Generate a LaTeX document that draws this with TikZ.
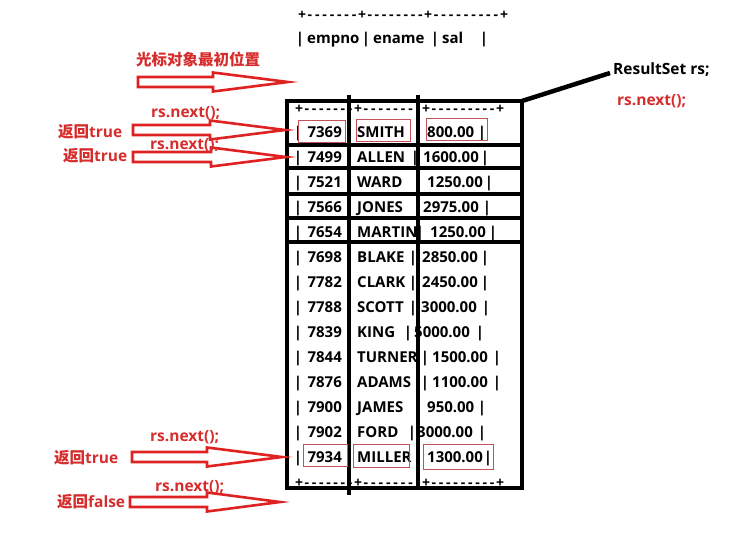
\documentclass[tikz,border=0pt]{standalone}
\usepackage{fontspec}
\setmainfont{Open Sans}
\newfontfamily\cjk{Noto Sans CJK SC}
\definecolor{redtxt}{RGB}{214,44,44}
\definecolor{arrowred}{RGB}{222,34,34}
\definecolor{boxred}{RGB}{196,80,90}
\newcommand\dashfill[1]{\hbox to #1pt{\xleaders\hbox to 6.9pt{\hss-\hss}\hfill}}
\newcommand\tblfont{\fontsize{15}{18}\selectfont\bfseries}
\newcommand\lblfont{\fontsize{15.5}{18}\selectfont\bfseries}
\begin{document}
\begin{tikzpicture}[x=1pt,y=-1pt,
  cell/.style={inner sep=0pt, font=\tblfont, anchor=base west},
  cellr/.style={inner sep=0pt, font=\tblfont, anchor=base east},
  barc/.style={inner sep=0pt, font=\tblfont, anchor=base},
  dashc/.style={inner sep=0pt, font=\fontsize{14}{18}\selectfont\bfseries, anchor=base},
  lbl/.style={inner sep=0pt, font=\lblfont, text=redtxt, anchor=west},
  thickline/.style={line width=4.5pt, black, line cap=rect},
  hollow/.style={draw=arrowred, line width=2.6pt, fill=white, line join=miter},
  redbox/.style={draw=boxred, line width=0.9pt}
]
\useasboundingbox (0,0) rectangle (735,544);

% header
\foreach \px [count=\i] in {302,362,428,504} {
  \node[dashc] (hp\i) at (\px,19.5) {+};
}
\node[dashc] (hd1) at (332,19.5) {\dashfill{52}};
\node[dashc] (hd2) at (395,19.5) {\dashfill{58}};
\node[dashc] (hd3) at (466,19.5) {\dashfill{68}};
\node[barc] (hb1) at (300,43) {|};
\node[cell] (hempno) at (307,43) {empno};
\node[barc] (hb2) at (366,43) {|};
\node[cell] (hename) at (373,43) {ename};
\node[barc] (hb3) at (435,43) {|};
\node[cell] (hsal) at (442,43) {sal};
\node[barc] (hb4) at (484,43) {|};

% inner dashed lines (top and bottom)
\foreach \yy/\nm in {113.5/t,487.5/b} {
  \foreach \px [count=\i] in {299,358,426,500} {
    \node[dashc] (\nm p\i) at (\px,\yy) {+};
  }
  \node[dashc] (\nm d1) at (328.5,\yy) {\dashfill{51}};
  \node[dashc] (\nm d2) at (392,\yy) {\dashfill{60}};
  \node[dashc] (\nm d3) at (463,\yy) {\dashfill{66}};
}

% rows
\foreach \k/\num/\name/\ba/\sal/\sx/\bb in {
  0/7369/SMITH/417/800.00/427/482,
  1/7499/ALLEN/415/1600.00/423/485,
  2/7521/WARD/0/1250.00/427/489,
  3/7566/JONES/0/2975.00/423/487,
  4/7654/MARTIN/420/1250.00/430/493,
  5/7698/BLAKE/413/2850.00/422/485,
  6/7782/CLARK/413/2450.00/422/485,
  7/7788/SCOTT/413/3000.00/421/486,
  8/7839/KING/408/5000.00/414/480,
  9/7844/TURNER/425/1500.00/432/497,
  10/7876/ADAMS/425/1100.00/432/497,
  11/7900/JAMES/0/950.00/427/482,
  12/7902/FORD/412/3000.00/417/482,
  13/7934/MILLER/0/1300.00/427/488} {
  \node[barc] (lb\k) at (298,{137+25*\k}) {|};
  \node[cellr] (num\k) at (342,{137+25*\k}) {\num};
  \node[cell] (nm\k) at (357,{137+25*\k}) {\name};
  \ifnum\ba>0
    \node[barc] (ba\k) at (\ba,{137+25*\k}) {|};
  \fi
  \node[cell] (sal\k) at (\sx,{137+25*\k}) {\sal};
  \node[barc] (bb\k) at (\bb,{137+25*\k}) {|};
}

% thick table lines
\draw[thickline] (287,101) rectangle (522,488);
\draw[thickline] (349,97) -- (349,493);
\draw[thickline] (418,97) -- (418,488);
\foreach \yy in {145,168,194,218,242} {
  \draw[thickline] (287,\yy) -- (522,\yy);
}

% red highlight boxes
\draw[redbox] (298,120) rectangle (345,142);
\draw[redbox] (356,119) rectangle (410,141);
\draw[redbox] (426,118) rectangle (487,140);
\draw[redbox] (303,444) rectangle (347,466);
\draw[redbox] (353,444) rectangle (409,467);
\draw[redbox] (423,444) rectangle (493,469);

% ResultSet label
\node[inner sep=0pt, font=\lblfont, anchor=west] (rsname) at (613,70) {ResultSet rs;};
\node[lbl] (rsnext) at (617,101) {rs.next();};
\coordinate (corner) at (522,101);
\draw[line width=4.5pt] (corner) -- ([xshift=-3pt,yshift=-3pt]rsname.west);

% hollow arrows
\newcommand\harrow[4]{% tail, tip, y, headstart
  \draw[hollow] (#1,#3-5) -- (#4,#3-5) -- (#4,#3-9.5) -- (#2,#3) -- (#4,#3+9.5) -- (#4,#3+5) -- (#1,#3+5) -- cycle;}
\harrow{138}{288}{82}{213}
\harrow{133}{285}{130}{210}
\harrow{133}{286}{157}{211}
\harrow{132}{282}{457}{207}
\harrow{130}{280}{502}{207}

% labels
\node[lbl, anchor=center] (init) at (198,59) {\cjk 光标对象最初位置};
\node[lbl] (n1) at (151,113) {rs.next();};
\node[lbl] (r1) at (58,132) {{\cjk 返回}true};
\node[lbl] (n2) at (150,145) {rs.next();};
\node[lbl] (r2) at (63,156) {{\cjk 返回}true};
\node[lbl] (n3) at (150,437) {rs.next();};
\node[lbl] (r3) at (54,458) {{\cjk 返回}true};
\node[lbl] (n4) at (155,487) {rs.next();};
\node[lbl] (r4) at (57,502) {{\cjk 返回}false};
\end{tikzpicture}
\end{document}
